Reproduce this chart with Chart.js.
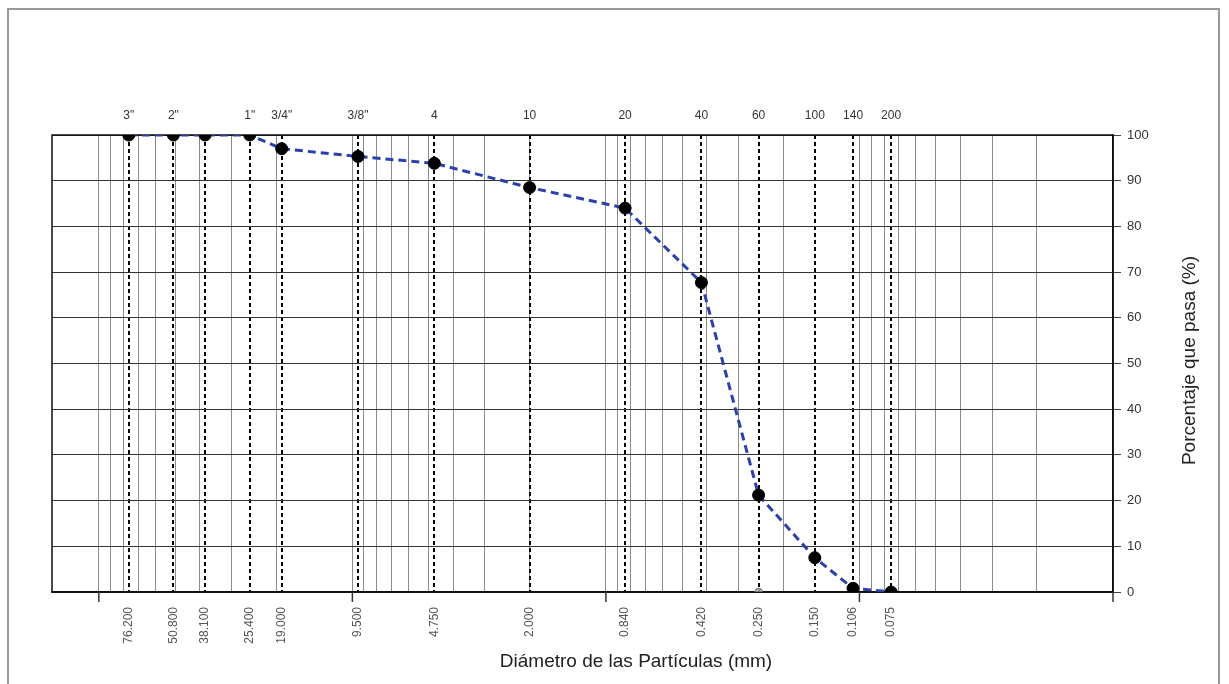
<!DOCTYPE html>
<html>
<head>
<meta charset="utf-8">
<script src="https://cdn.jsdelivr.net/npm/chart.js@4/dist/chart.umd.min.js"></script>
<style>
  html, body { margin: 0; padding: 0; background: #ffffff; }
  #wrap { position: relative; width: 1229px; height: 684px; overflow: hidden; }
  #frame { position: absolute; left: 7px; top: 8px; width: 1213px; height: 700px; border: 2px solid #9a9a9a; box-sizing: border-box; }
  #c { position: absolute; left: 0; top: 0; }
</style>
</head>
<body>
<div id="wrap">
  <div id="frame"></div>
  <canvas id="c" width="1229" height="684"></canvas>
</div>
<script>
// ---- data ----
const diameters = [76.2, 50.8, 38.1, 25.4, 19.0, 9.5, 4.75, 2.0, 0.84, 0.42, 0.25, 0.15, 0.106, 0.075];
const percentPassing = [100, 100, 100, 100, 97, 95.3, 93.8, 88.5, 84, 67.7, 21.2, 7.5, 0.8, 0];
const sieveNames = ['3"', '2"', '', '1"', '3/4"', '3/8"', '4', '10', '20', '40', '60', '100', '140', '200'];
const diameterLabels = ['76.200', '50.800', '38.100', '25.400', '19.000', '9.500', '4.750', '2.000', '0.840', '0.420', '0.250', '0.150', '0.106', '0.075'];
const decadeTicks = [100, 10, 1, 0.1, 0.01];
const extraMarkerX = [0.25];
const extraMarkerY = [0];
const xMin = 0.01, xMax = 153;
const yMin = 0, yMax = 100, yStep = 10;
const xTitle = 'Diámetro de las Partículas (mm)';
const yTitle = 'Porcentaje que pasa (%)';

const FONT = "'Liberation Sans', Arial, sans-serif";

const curve = diameters.map((d, i) => ({ x: d, y: percentPassing[i] }));
const extra = extraMarkerX.map((d, i) => ({ x: d, y: extraMarkerY[i] }));

function logGridValues(min, max) {
  const vals = [];
  for (let e = -3; e <= 3; e++) {
    for (let m = 1; m <= 9; m++) {
      const v = parseFloat((m * Math.pow(10, e)).toPrecision(6));
      if (v >= min - 1e-12 && v <= max) vals.push(v);
    }
  }
  return vals;
}

const framePlugin = {
  id: 'framePlugin',
  beforeDatasetsDraw(chart) {
    const { ctx, chartArea: a } = chart;
    const xs = chart.scales.x;
    ctx.save();
    ctx.strokeStyle = '#111';
    ctx.lineWidth = 1.5;
    ctx.strokeRect(a.left, a.top, a.right - a.left, a.bottom - a.top);
    // decade tick marks below the x axis
    ctx.strokeStyle = '#333';
    ctx.lineWidth = 1.5;
    decadeTicks.forEach(v => {
      const px = xs.getPixelForValue(v);
      ctx.beginPath();
      ctx.moveTo(px, a.bottom);
      ctx.lineTo(px, a.bottom + 10);
      ctx.stroke();
    });
    ctx.restore();
  },
  afterDraw(chart) {
    const { ctx, chartArea: a } = chart;
    ctx.save();
    ctx.fillStyle = '#222';
    ctx.font = '19px ' + FONT;
    ctx.textAlign = 'center';
    ctx.textBaseline = 'middle';
    ctx.fillText(xTitle, a.left + 584, 662);
    ctx.translate(a.right + 77, (a.top + a.bottom) / 2 - 3);
    ctx.rotate(-Math.PI / 2);
    ctx.fillText(yTitle, 0, 0);
    ctx.restore();
  }
};

new Chart(document.getElementById('c'), {
  type: 'scatter',
  data: {
    datasets: [
      {
        data: curve,
        showLine: true,
        borderColor: '#2b40ad',
        borderWidth: 3,
        borderDash: [8, 5],
        pointRadius: 6,
        pointBackgroundColor: '#000',
        pointBorderColor: '#000',
        pointBorderWidth: 1,
        xAxisID: 'x',
        yAxisID: 'y'
      },
      {
        data: extra,
        showLine: false,
        pointRadius: 3.5,
        pointBackgroundColor: 'rgba(190,190,190,0.6)',
        pointBorderColor: '#777',
        pointBorderWidth: 1.5,
        xAxisID: 'x',
        yAxisID: 'y'
      }
    ]
  },
  options: {
    responsive: false,
    animation: false,
    devicePixelRatio: 1,
    layout: { padding: { left: 52, top: 0, right: 0, bottom: 0 } },
    plugins: { legend: { display: false }, tooltip: { enabled: false } },
    scales: {
      x: {
        type: 'logarithmic',
        position: 'bottom',
        weight: 0,
        min: xMin, max: xMax,
        reverse: true,
        afterBuildTicks(scale) { scale.ticks = logGridValues(xMin, xMax).map(v => ({ value: v })); },
        afterFit(scale) { scale.height = 0; },
        ticks: { display: false, autoSkip: false },
        grid: { color: '#8a8a8a', lineWidth: 1, drawTicks: false },
        border: { display: true, color: '#111', width: 1.5 }
      },
      x2: {
        type: 'logarithmic',
        position: 'bottom',
        weight: 1,
        min: xMin, max: xMax,
        reverse: true,
        afterBuildTicks(scale) { scale.ticks = diameters.map(v => ({ value: v })); },
        afterFit(scale) { scale.height = 92; },
        ticks: {
          autoSkip: false,
          minRotation: 90, maxRotation: 90,
          padding: 15,
          color: '#555',
          font: { family: FONT, size: 12 },
          callback: (v, i) => diameterLabels[i]
        },
        grid: { color: '#000', lineWidth: 2, drawTicks: false, drawOnChartArea: true },
        border: { display: false, dash: [4, 3] }
      },
      x3: {
        type: 'logarithmic',
        position: 'top',
        min: xMin, max: xMax,
        reverse: true,
        afterBuildTicks(scale) { scale.ticks = diameters.map(v => ({ value: v })); },
        afterFit(scale) { scale.height = 135; },
        ticks: {
          autoSkip: false,
          maxRotation: 0, minRotation: 0,
          padding: 12,
          color: '#333',
          font: { family: FONT, size: 12 },
          callback: (v, i) => sieveNames[i]
        },
        grid: { display: false, drawTicks: false },
        border: { display: false }
      },
      y: {
        type: 'linear',
        position: 'right',
        min: yMin, max: yMax,
        afterFit(scale) { scale.width = 116; },
        ticks: {
          stepSize: yStep,
          padding: 6,
          color: '#333',
          font: { family: FONT, size: 13 }
        },
        grid: { color: '#333', lineWidth: 1, drawTicks: true, tickLength: 8, tickColor: '#444' },
        border: { display: true, color: '#111', width: 1.5 }
      }
    }
  },
  plugins: [framePlugin]
});
</script>
</body>
</html>
